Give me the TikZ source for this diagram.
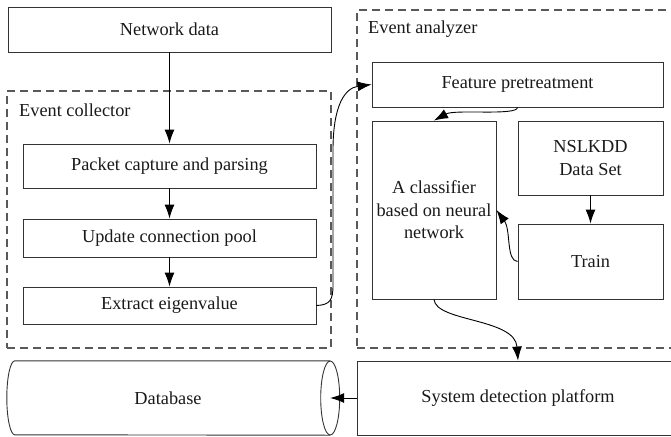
\documentclass[tikz,border=0pt]{standalone}
\usepackage{fontspec}
\setmainfont{Liberation Serif}
\usetikzlibrary{arrows.meta,calc}
\begin{document}
\begin{tikzpicture}[x=1pt,y=-1pt,
  font=\fontsize{18.3}{22.5}\selectfont,
  box/.style={draw=black!80, line width=0.9pt, rectangle, inner sep=0pt, text=black!90},
  group/.style={draw=black!65, line width=1.3pt, dash pattern=on 8pt off 5pt, rectangle, inner sep=0pt},
  arr/.style={draw=black, line width=0.9pt, -{Latex[length=14pt,width=10pt]}},
  lbl/.style={anchor=west, inner sep=0pt, text=black!90},
  tube/.style={draw=black!80, line width=0.9pt}]
\useasboundingbox (0,0) rectangle (671,436);
\clip (0,0) rectangle (671,436);

% dashed group frames
\node[group, minimum width=324pt, minimum height=257pt] (collector) at (169,219.5) {};
\node[group, minimum width=330pt, minimum height=338pt] (analyzer) at (522,179) {};
\node[lbl] (collectorlbl) at (19,110) {Event collector};
\node[lbl] (analyzerlbl) at (368,29) {Event analyzer};

% left column
\node[box, minimum width=323pt, minimum height=45pt] (net) at (169.5,29.5) {Network data};
\node[box, minimum width=293pt, minimum height=44pt] (pkt) at (169.5,166) {Packet capture and parsing};
\node[box, minimum width=293pt, minimum height=38pt] (upd) at (169.5,238) {Update connection pool};
\node[box, minimum width=293pt, minimum height=37pt] (ext) at (169.5,305.5) {Extract eigenvalue};

% right column
\node[box, minimum width=291pt, minimum height=45pt] (feat) at (517.5,84.5) {Feature pretreatment};
\node[box, minimum width=124pt, minimum height=178pt, align=center] (cls) at (434,210) {A classifier\\based on neural\\network};
\node[box, minimum width=145pt, minimum height=74pt, align=center] (nsl) at (590.5,158) {NSLKDD\\Data Set};
\node[box, minimum width=145pt, minimum height=75pt] (train) at (590.5,261.5) {Train};

% bottom row
\node[box, minimum width=322pt, minimum height=74pt] (sys) at (518,398) {System detection platform};
\node[inner sep=0pt, minimum width=315pt, minimum height=74pt, text=black!90] (db) at (172.5,398) {\hspace*{-9pt}Database};
% database drawn as a horizontal tube
\draw[tube] (db.north east) -- (db.north west)
  arc[start angle=90, end angle=270, x radius=8pt, y radius=37pt]
  -- (db.south east);
\draw[tube] (db.east) ellipse [x radius=9.5pt, y radius=37pt];

% connectors
\draw[arr] (net) -- (pkt);
\draw[arr] (pkt) -- (upd);
\draw[arr] (upd) -- (ext);
\draw[arr] (ext.east) .. controls (330,305) and (333,300) .. (333,285)
  -- (333,150) .. controls (333,105) and (345,88) .. (feat.west);
\draw[arr] (feat.south) .. controls (517,116) and (455,109) .. (cls.north);
\draw[arr] (nsl) -- (train);
\draw[arr] (train.west) .. controls (506,261) and (511,230) .. (cls.east);
\draw[arr] (cls.south) .. controls (436,322) and (515,318) .. (sys.north);
\draw[arr] (sys.west) -- (db.east);
\end{tikzpicture}
\end{document}
